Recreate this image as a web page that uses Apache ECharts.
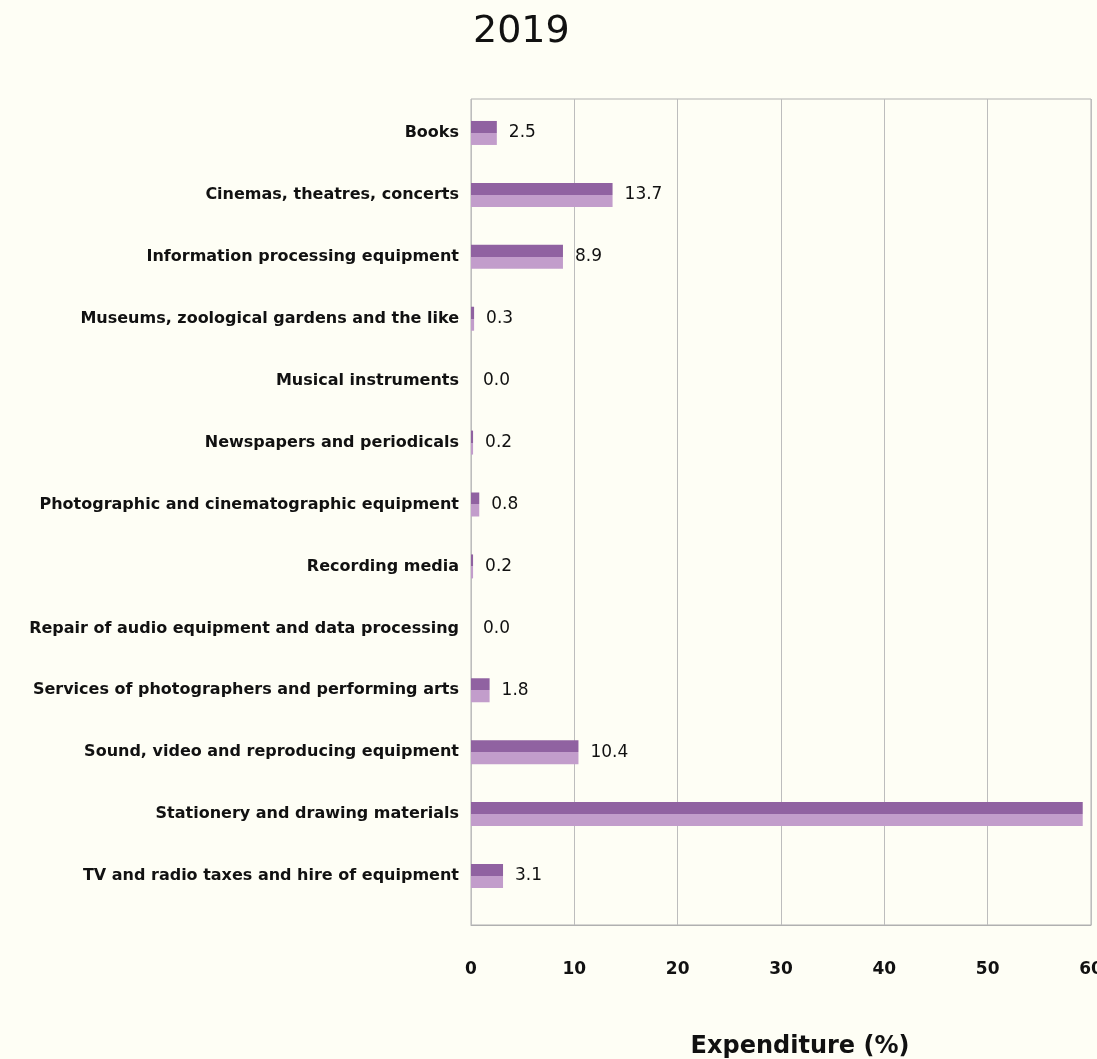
<!DOCTYPE html>
<html>
<head>
<meta charset="utf-8">
<script src="https://cdn.jsdelivr.net/npm/echarts@6/dist/echarts.min.js"></script>
<style>
html,body{margin:0;padding:0;background:#FEFEF5;overflow:hidden;}
#chart{width:1097px;height:1059px;}
</style>
</head>
<body>
<div id="chart"></div>
<script>
const titleText = '2019';
const categories = [
  'Books',
  'Cinemas, theatres, concerts',
  'Information processing equipment',
  'Museums, zoological gardens and the like',
  'Musical instruments',
  'Newspapers and periodicals',
  'Photographic and cinematographic equipment',
  'Recording media',
  'Repair of audio equipment and data processing',
  'Services of photographers and performing arts',
  'Sound, video and reproducing equipment',
  'Stationery and drawing materials',
  'TV and radio taxes and hire of equipment'
];
const values = [2.5, 13.7, 8.9, 0.3, 0.0, 0.2, 0.8, 0.2, 0.0, 1.8, 10.4, 59.2, 3.1];
const hiddenLabels = ['Stationery and drawing materials'];
const xTicks = [0, 10, 20, 30, 40, 50, 60];
const axisName = 'Expenditure (%)';

const FONT = '"DejaVu Sans", sans-serif';
const dark = '#9062A1';
const light = '#C29DCB';
const barColor = {
  type: 'linear', x: 0, y: 0, x2: 0, y2: 1,
  colorStops: [
    {offset: 0, color: dark}, {offset: 0.5, color: dark},
    {offset: 0.5, color: light}, {offset: 1, color: light}
  ]
};

const chart = echarts.init(document.getElementById('chart'), null, {renderer: 'canvas'});
chart.setOption({
  backgroundColor: '#FEFEF5',
  animation: false,
  title: {
    text: titleText, left: 468, top: 8,
    textStyle: {fontFamily: FONT, fontSize: 38, fontWeight: 'normal', color: '#111'}
  },
  grid: [
    {left: 471, right: 6, top: 99, bottom: 134, containLabel: false, outerBoundsMode: 'none',
     show: true, borderColor: '#b0b0b0', borderWidth: 1, backgroundColor: 'transparent'},
    {left: 471, right: 6, top: 102, bottom: 152, containLabel: false, outerBoundsMode: 'none'}
  ],
  xAxis: [
    {
      gridIndex: 0, type: 'value', min: xTicks[0], max: xTicks[xTicks.length - 1], interval: 10,
      axisLine: {show: true, lineStyle: {color: '#b0b0b0'}},
      axisTick: {show: false},
      splitLine: {show: true, lineStyle: {color: '#bdbdbd', width: 1}},
      axisLabel: {margin: 36, fontFamily: FONT, fontWeight: 'bold', fontSize: 17, color: '#111'},
      name: axisName, nameLocation: 'middle', nameGap: 110,
      nameTextStyle: {fontFamily: FONT, fontWeight: 'bold', fontSize: 24, color: '#111', padding: [0, 0, 0, 38]}
    },
    {
      gridIndex: 1, type: 'value', min: xTicks[0], max: xTicks[xTicks.length - 1], show: false
    }
  ],
  yAxis: [
    {gridIndex: 0, type: 'value', show: false},
    {
      gridIndex: 1, type: 'category', data: categories, inverse: true,
      axisLine: {show: false}, axisTick: {show: false},
      axisLabel: {margin: 12, fontFamily: FONT, fontWeight: 'bold', fontSize: 16, color: '#111'}
    }
  ],
  series: [{
    type: 'bar', xAxisIndex: 1, yAxisIndex: 1,
    barWidth: 24,
    itemStyle: {color: barColor},
    data: values.map((v, i) => ({
      value: v,
      label: {show: hiddenLabels.indexOf(categories[i]) < 0}
    })),
    label: {
      show: true, position: 'right', distance: 12,
      formatter: p => p.value.toFixed(1),
      fontFamily: FONT, fontSize: 17, color: '#111'
    }
  }]
});
</script>
</body>
</html>
